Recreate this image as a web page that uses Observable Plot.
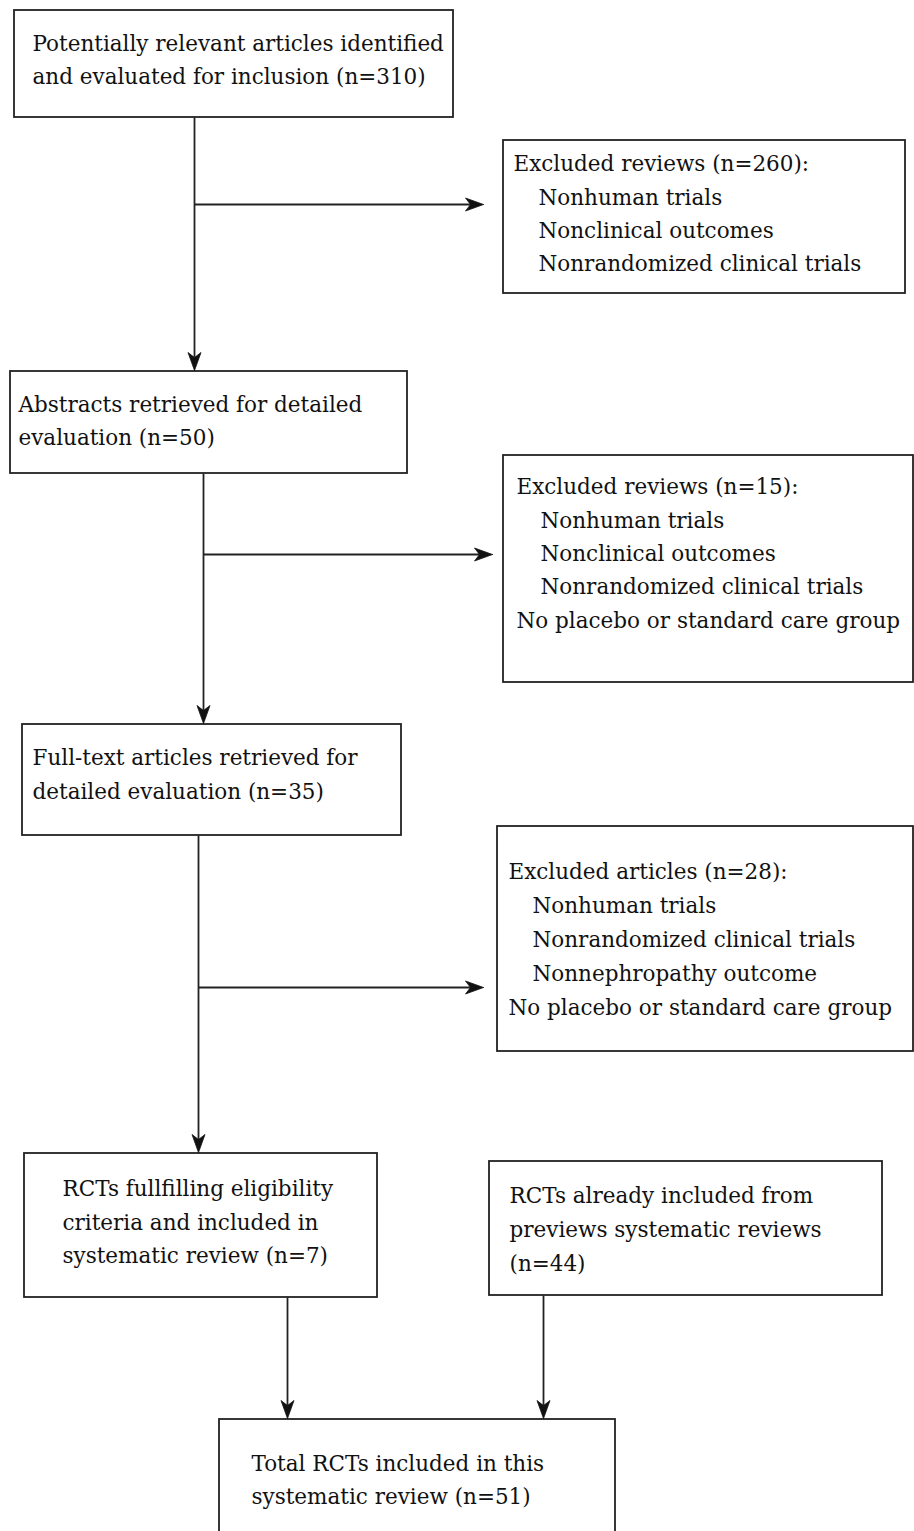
<!DOCTYPE html>
<html>
<head>
<meta charset="utf-8">
<script src="https://cdn.jsdelivr.net/npm/d3@7"></script>
<script src="https://cdn.jsdelivr.net/npm/@observablehq/plot@0.6"></script>
<style>
  html, body { margin: 0; padding: 0; background: #fff; }
  #chart svg { display: block; }
</style>
</head>
<body>
<div id="chart"></div>
<script>
// ---- Data (flow-diagram content) ----
const stageNames = [
  "Potentially relevant articles identified\nand evaluated for inclusion",
  "Abstracts retrieved for detailed\nevaluation",
  "Full-text articles retrieved for\ndetailed evaluation",
  "RCTs fullfilling eligibility\ncriteria and included in\nsystematic review",
  "RCTs already included from\npreviews systematic reviews\n",
  "Total RCTs included in this\nsystematic review"
];
const stageCounts = [310, 50, 35, 7, 44, 51];

const exclusionHeads = ["Excluded reviews", "Excluded reviews", "Excluded articles"];
const exclusionCounts = [260, 15, 28];
const exclusionReasons1 = ["Nonhuman trials", "Nonclinical outcomes", "Nonrandomized clinical trials"];
const exclusionReasons2 = ["Nonhuman trials", "Nonclinical outcomes", "Nonrandomized clinical trials"];
const exclusionReasons3 = ["Nonhuman trials", "Nonrandomized clinical trials", "Nonnephropathy outcome"];
const exclusionExtra = [null, "No placebo or standard care group", "No placebo or standard care group"];

// ---- Layout (diagram geometry, separate from data) ----
const W = 914, H = 1531;
const stageLayout = [
  {x1: 14, x2: 453, y1: 10, y2: 117, tx: 32, ty: 44, lh: 32.5},
  {x1: 10, x2: 407, y1: 371, y2: 473, tx: 18, ty: 405, lh: 33},
  {x1: 22, x2: 401, y1: 724, y2: 835, tx: 32, ty: 758, lh: 34},
  {x1: 24, x2: 377, y1: 1153, y2: 1297, tx: 62, ty: 1189, lh: 33.5},
  {x1: 489, x2: 882, y1: 1161, y2: 1295, tx: 509, ty: 1196, lh: 34},
  {x1: 219, x2: 615, y1: 1419, y2: 1545, tx: 251, ty: 1464, lh: 33}
];
const exclLayout = [
  {x1: 503, x2: 905, y1: 140, y2: 293, tx: 513, ind: 25, ty: 164, lh: 33.3},
  {x1: 503, x2: 913, y1: 455, y2: 682, tx: 516, ind: 24, ty: 487, lh: 33.3},
  {x1: 497, x2: 913, y1: 826, y2: 1051, tx: 508, ind: 24, ty: 872, lh: 34}
];
// connectors
const shafts = [
  {x1: 194, y1: 117, x2: 194, y2: 370},
  {x1: 194, y1: 204, x2: 483, y2: 204},
  {x1: 203, y1: 473, x2: 203, y2: 723},
  {x1: 203, y1: 554, x2: 492, y2: 554},
  {x1: 198, y1: 835, x2: 198, y2: 1152},
  {x1: 198, y1: 987, x2: 483, y2: 987},
  {x1: 287, y1: 1297, x2: 287, y2: 1418},
  {x1: 543, y1: 1295, x2: 543, y2: 1418}
];

// ---- Build mark tables ----
const boxes = [...stageLayout, ...exclLayout];
const texts = [];
stageNames.forEach((name, i) => {
  const L = stageLayout[i];
  const lines = name.split("\n");
  lines[lines.length - 1] = (lines[lines.length - 1] ? lines[lines.length - 1] + " " : "") + `(n=${stageCounts[i]})`;
  lines.forEach((t, j) => texts.push({x: L.tx, y: L.ty + j * L.lh, t}));
});
const reasonSets = [exclusionReasons1, exclusionReasons2, exclusionReasons3];
exclusionHeads.forEach((h, i) => {
  const L = exclLayout[i];
  const lines = [{t: `${h} (n=${exclusionCounts[i]}):`, dx: 0}];
  reasonSets[i].forEach(r => lines.push({t: r, dx: L.ind}));
  if (exclusionExtra[i]) lines.push({t: exclusionExtra[i], dx: 0});
  lines.forEach((l, j) => texts.push({x: L.tx + l.dx, y: L.ty + j * L.lh, t: l.t}));
});

// arrowheads as small filled stealth polygons at each shaft end
const heads = [];
const hl = 18, hw = 6.5, notch = 5;
shafts.forEach((s, k) => {
  const dx = s.x2 - s.x1, dy = s.y2 - s.y1;
  const len = Math.hypot(dx, dy), ux = dx / len, uy = dy / len;
  const px = -uy, py = ux;
  const tip = [s.x2, s.y2];
  const pts = [
    tip,
    [tip[0] - ux * hl + px * hw, tip[1] - uy * hl + py * hw],
    [tip[0] - ux * (hl - notch), tip[1] - uy * (hl - notch)],
    [tip[0] - ux * hl - px * hw, tip[1] - uy * hl - py * hw],
    tip
  ];
  pts.forEach(p => heads.push({x: p[0], y: p[1], k}));
});
const shaftLines = shafts.map(s => {
  const dx = s.x2 - s.x1, dy = s.y2 - s.y1, len = Math.hypot(dx, dy);
  return {...s, x2: s.x2 - dx / len * (hl - notch), y2: s.y2 - dy / len * (hl - notch)};
});

const chart = Plot.plot({
  width: W,
  height: H,
  margin: 0,
  x: {domain: [0, W], range: [0, W], axis: null},
  y: {domain: [0, H], range: [0, H], axis: null},
  style: {background: "#fff"},
  marks: [
    Plot.rect(boxes, {x1: "x1", x2: "x2", y1: "y1", y2: "y2", fill: "white", stroke: "#222", strokeWidth: 1.8}),
    Plot.link(shaftLines, {x1: "x1", y1: "y1", x2: "x2", y2: "y2", stroke: "#222", strokeWidth: 1.8}),
    Plot.line(heads, {x: "x", y: "y", z: "k", fill: "#111", stroke: "#111", strokeWidth: 0.8}),
    Plot.text(texts, {x: "x", y: "y", text: "t", textAnchor: "start", fill: "#111",
      fontFamily: "DejaVu Serif", fontSize: 21.5})
  ]
});
document.getElementById("chart").appendChild(chart);
</script>
</body>
</html>
